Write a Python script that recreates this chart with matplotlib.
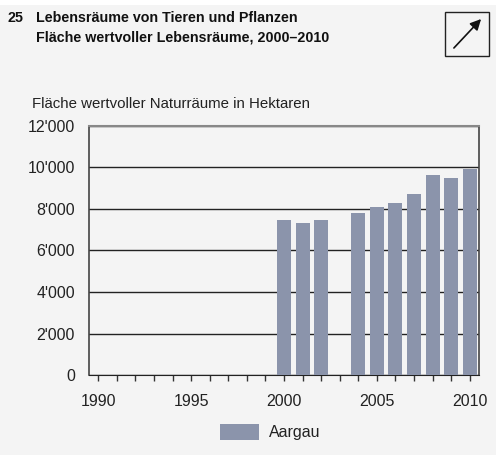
import matplotlib.pyplot as plt
from matplotlib.patches import Rectangle, FancyArrowPatch
from matplotlib.ticker import FuncFormatter

years = list(range(1990, 2011))
values = [0] * 10 + [7470, 7330, 7470, 0, 7810, 8100, 8290, 8720, 9640, 9490, 9930]
tick_years = [1990, 1995, 2000, 2005, 2010]
series_name = "Aargau"

bg = "#f4f4f4"
bar_color = "#8b94ab"
plt.rcParams['font.family'] = ['Liberation Sans', 'DejaVu Sans']

fig = plt.figure(figsize=(4.96, 4.55), dpi=100, facecolor=bg)
ax = fig.add_axes([89 / 496, 1 - 375 / 455, 390 / 496, 249 / 455], facecolor=bg)

x = list(range(len(years)))
ax.bar(x, values, width=0.75, color=bar_color, zorder=3, label=series_name)

ax.set_xlim(-0.5, len(years) - 0.5)
ax.set_ylim(0, 12000)
ax.set_yticks(range(0, 12001, 2000))
ax.yaxis.set_major_formatter(FuncFormatter(lambda v, p: f"{int(v):,}".replace(",", "'")))
ax.set_xticks(x)
ax.set_xticklabels([str(y) if y in tick_years else "" for y in years])
ax.tick_params(axis='x', length=4, width=1, color="#333333", labelsize=11.5, pad=10, labelcolor="#222222")
ax.tick_params(axis='y', length=0, labelsize=11.5, pad=10, labelcolor="#222222")
ax.yaxis.grid(True, color="#222222", linewidth=1, zorder=1)
for s in ['left', 'right']:
    ax.spines[s].set_color("#444444")
    ax.spines[s].set_linewidth(1.2)
ax.spines['top'].set_color("#888888")
ax.spines['top'].set_linewidth(1.5)
ax.spines['bottom'].set_color("#222222")

# white strip at the very top
fig.patches.append(Rectangle((0, 1 - 5 / 455), 1, 5 / 455, transform=fig.transFigure,
                             facecolor="white", edgecolor="none"))

fig.text(8 / 496, 1 - 18 / 455, "25", fontsize=10.3, fontweight='bold', va='center', color="#111111")
fig.text(36 / 496, 1 - 18 / 455, "Lebensräume von Tieren und Pflanzen", fontsize=10.3, fontweight='bold',
         va='center', color="#111111")
fig.text(36 / 496, 1 - 38 / 455, "Fläche wertvoller Lebensräume, 2000–2010", fontsize=10.3, fontweight='bold',
         va='center', color="#111111")
fig.text(32 / 496, 1 - 104 / 455, "Fläche wertvoller Naturräume in Hektaren", fontsize=10.8, va='center',
         color="#222222")

fig.patches.append(Rectangle((445 / 496, 1 - 56 / 455), 44 / 496, 44 / 455, transform=fig.transFigure,
                             fill=False, edgecolor="#222222", linewidth=1))
fig.patches.append(FancyArrowPatch((452 / 496, 1 - 50 / 455), (483 / 496, 1 - 17 / 455), transform=fig.transFigure,
                                   arrowstyle='-|>', mutation_scale=16, color="#111111", linewidth=1.2))

ax.legend(loc='center', bbox_to_anchor=(0.464, -0.229), frameon=False, fontsize=11.5,
          handlelength=2.44, handleheight=1.13, handletextpad=0.62, labelcolor="#222222")

fig.savefig("out.png", dpi=100, facecolor=bg)
